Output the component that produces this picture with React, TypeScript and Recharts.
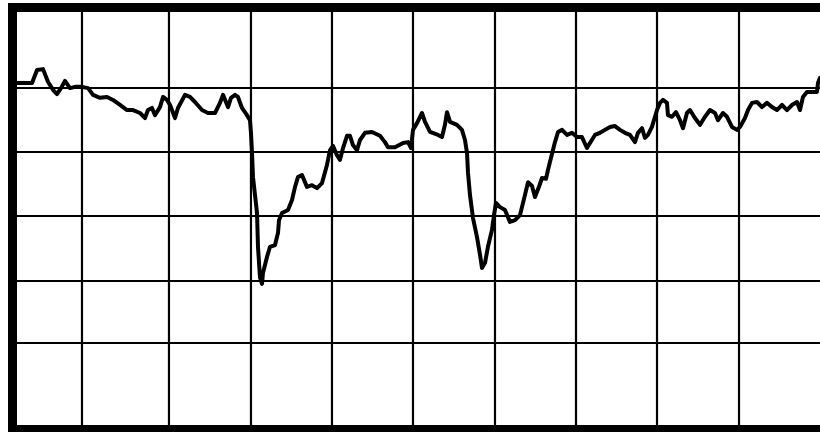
import React from 'react';
import { LineChart, Line, XAxis, YAxis, CartesianGrid, ReferenceArea } from 'recharts';

// Horizontal position of each reading (0–100 across the frame)
const timeValues = [
  0.55, 1.53, 2.39, 3.0, 3.73, 4.34, 4.95, 5.44, 5.93, 6.42, 7.03, 7.65, 8.5, 9.24, 9.85,
  10.7, 11.56, 12.29, 13.15, 14.01, 14.74, 15.6, 16.21, 16.57, 17.06, 17.43, 18.04, 18.41, 18.9, 19.27,
  19.88, 20.24, 21.1, 21.71, 22.32, 23.18, 23.91, 24.77, 25.38, 25.75, 26.36, 26.73, 27.22, 27.58, 28.07,
  28.68, 29.05, 29.17, 29.3, 29.42, 29.91, 30.03, 30.27, 30.52, 30.64, 31.13, 31.5, 32.11, 32.48, 32.6,
  32.97, 33.7, 34.19, 34.56, 34.92, 35.41, 36.02, 36.64, 37.25, 37.86, 38.47, 38.84, 39.2, 39.69, 40.06,
  40.43, 40.92, 41.28, 41.65, 42.14, 42.51, 43.12, 43.97, 44.95, 45.56, 45.93, 46.79, 47.77, 48.38, 48.75,
  48.99, 49.48, 50.09, 50.46, 51.07, 52.05, 52.54, 52.9, 53.15, 53.52, 54.37, 54.98, 55.35, 55.6, 55.72,
  55.96, 56.33, 56.82, 57.19, 57.43, 57.8, 58.16, 58.65, 58.9, 59.14, 59.63, 60.24, 60.85, 61.47, 62.08,
  62.69, 63.06, 63.55, 63.91, 64.4, 64.77, 65.26, 65.5, 65.99, 66.36, 66.73, 67.22, 67.83, 68.44, 69.05,
  69.66, 70.27, 70.64, 71.25, 71.86, 72.47, 73.09, 73.7, 74.31, 74.92, 75.53, 76.14, 76.51, 77.0, 77.37,
  77.73, 78.22, 78.59, 78.84, 79.2, 79.57, 80.06, 80.18, 80.67, 81.16, 81.65, 82.02, 82.5, 82.87, 83.48,
  84.1, 84.71, 85.32, 85.93, 86.3, 86.91, 87.4, 88.01, 88.62, 88.99, 89.6, 89.97, 90.46, 91.07, 91.68,
  92.29, 92.9, 93.51, 94.13, 94.74, 95.35, 95.96, 96.33, 96.69, 97.18, 97.92, 98.41, 98.53, 98.77,
];

// Trace level at each reading (0–100 from bottom of frame to top)
const levelValues = [
  82.1, 82.1, 82.1, 85.2, 85.4, 82.4, 80.5, 79.5, 80.9, 82.6, 80.9, 81.2, 81.2, 80.9, 79.3,
  78.6, 78.8, 78.1, 76.9, 75.7, 75.7, 75.0, 73.8, 75.7, 76.2, 74.5, 76.4, 78.8, 78.1, 76.9,
  73.8, 76.2, 79.3, 78.8, 77.6, 75.7, 75.0, 75.0, 77.4, 79.3, 76.4, 78.6, 79.3, 78.8, 76.2,
  74.5, 73.3, 70.3, 65.5, 59.8, 51.3, 43.3, 36.1, 34.5, 37.1, 40.9, 43.3, 43.7, 46.6, 49.6,
  51.3, 52.0, 54.4, 57.5, 59.8, 60.3, 57.5, 57.9, 57.2, 58.4, 62.7, 66.2, 67.2, 65.0, 63.9,
  66.7, 69.6, 69.6, 67.4, 66.2, 68.6, 70.3, 70.5, 69.6, 68.1, 66.9, 66.9, 67.9, 68.1, 66.7,
  71.0, 72.6, 75.0, 72.9, 70.5, 69.8, 69.3, 72.2, 75.2, 72.9, 72.2, 71.0, 68.6, 65.5, 60.8,
  55.6, 50.1, 45.6, 41.4, 38.3, 39.5, 43.3, 47.3, 50.8, 53.7, 52.7, 52.0, 49.2, 49.6, 50.8,
  55.6, 58.6, 57.7, 55.1, 57.5, 59.6, 59.4, 61.5, 65.3, 68.1, 70.5, 71.0, 69.8, 70.3, 69.3,
  69.3, 66.7, 67.9, 69.8, 70.3, 71.0, 71.7, 71.9, 71.0, 70.3, 69.8, 68.1, 70.3, 71.4, 69.1,
  69.8, 71.7, 74.1, 75.7, 77.4, 78.1, 77.4, 74.5, 74.1, 75.2, 73.3, 71.4, 75.0, 75.7, 73.8,
  72.2, 74.1, 75.7, 75.0, 73.3, 75.0, 74.1, 71.7, 71.0, 71.7, 73.8, 75.7, 77.4, 77.6, 76.4,
  77.4, 76.4, 75.7, 76.9, 75.7, 76.9, 77.6, 75.7, 78.8, 80.0, 80.0, 80.0, 82.1, 83.3,
];

// Grid line positions
const xGridTicks = [8.5, 19.14, 29.17, 39.08, 48.99, 59.02, 68.93, 78.84, 88.87];
const yGridTicks = [20.5, 35.19, 50.59, 65.76, 80.92];

const data = timeValues.map((t, i) => ({ t, v: levelValues[i] }));

export default function App() {
  return (
    <div
      style={{
        position: 'absolute',
        left: 0,
        top: 0,
        width: 820,
        height: 432,
        overflow: 'hidden',
        background: '#fff',
      }}
    >
      <LineChart
        width={840}
        height={432}
        data={data}
        margin={{ top: 7.5, right: 10, bottom: 2.5, left: 12.5 }}
      >
        <XAxis type="number" dataKey="t" domain={[0, 100]} ticks={xGridTicks} hide allowDataOverflow />
        <YAxis type="number" domain={[0, 100]} ticks={yGridTicks} hide allowDataOverflow />
        <CartesianGrid stroke="#000" strokeWidth={2.2} strokeOpacity={1} />
        <Line
          type="linear"
          dataKey="v"
          stroke="#000"
          strokeWidth={4}
          strokeLinejoin="round"
          strokeLinecap="round"
          dot={false}
          activeDot={false}
          isAnimationActive={false}
        />
        <ReferenceArea
          x1={0}
          x2={100}
          y1={0}
          y2={100}
          fill="none"
          fillOpacity={0}
          stroke="#000"
          strokeWidth={9}
          ifOverflow="visible"
        />
      </LineChart>
    </div>
  );
}
